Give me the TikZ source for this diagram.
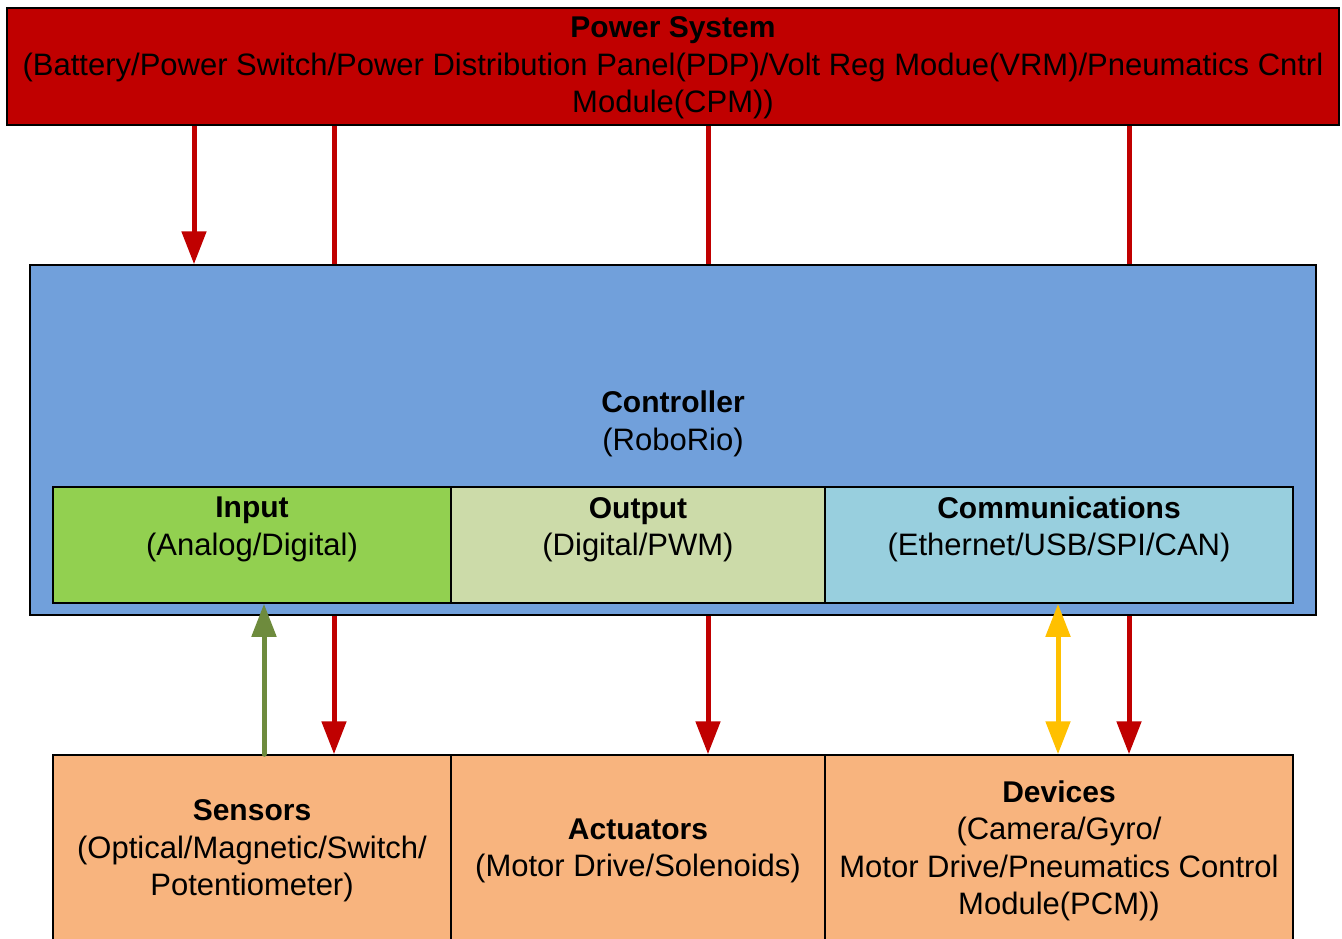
\documentclass[tikz,border=0pt]{standalone}
\usepackage{fontspec}
\setmainfont{Liberation Sans}
\usetikzlibrary{arrows.meta}
\definecolor{pwr}{HTML}{C00000}
\definecolor{ctrlc}{HTML}{71A0DB}
\definecolor{inc}{HTML}{92D050}
\definecolor{outc}{HTML}{CCDBA9}
\definecolor{comc}{HTML}{98CFDE}
\definecolor{orng}{HTML}{F8B47E}
\definecolor{grn}{HTML}{6E8B3D}
\definecolor{yel}{HTML}{FFC000}
\newcommand\hdtext[1]{{\fontsize{30pt}{37.5pt}\selectfont\bfseries #1}}
\tikzset{
  box/.style={draw=black, line width=1.5pt, inner sep=0pt},
  txt/.style={inner sep=0pt, align=center},
  conn/.style={line width=5pt},
  tip/.style={-{Triangle[width=24pt,length=33pt]}},
  bigfont/.style={font=\fontsize{31pt}{37.5pt}\selectfont}
}
\begin{document}
\begin{tikzpicture}[x=1pt,y=-1pt,bigfont]
\clip (0,0) rectangle (1342,938);
\fill[white] (0,0) rectangle (1342,938);
% power system
\node[box, fill=pwr, minimum width=1332pt, minimum height=117pt] (pwr) at (673,66.5) {};
\node[txt] (pwrtxt) at (673,68)
  {\hdtext{Power System}\\(Battery/Power Switch/Power Distribution Panel(PDP)/Volt Reg Modue(VRM)/Pneumatics Cntrl\\Module(CPM))};
% controller
\node[box, fill=ctrlc, minimum width=1286pt, minimum height=350pt] (ctrl) at (673,440) {};
\node[txt] (ctrltxt) at (673,424) {\hdtext{Controller}\\(RoboRio)};
% inner boxes
\node[box, fill=inc, minimum width=398pt, minimum height=116pt] (inp) at (252,545) {};
\node[box, fill=outc, minimum width=374pt, minimum height=116pt] (outp) at (638,545) {};
\node[box, fill=comc, minimum width=468pt, minimum height=116pt] (comm) at (1059,545) {};
\node[txt] (inptxt) at (252,529.5) {\hdtext{Input}\\(Analog/Digital)};
\node[txt] (outptxt) at (638,529.5) {\hdtext{Output}\\(Digital/PWM)};
\node[txt] (commtxt) at (1059,529.5) {\hdtext{Communications}\\(Ethernet/USB/SPI/CAN)};
% bottom boxes
\node[box, fill=orng, minimum width=398pt, minimum height=186pt] (sens) at (252,848) {};
\node[box, fill=orng, minimum width=374pt, minimum height=186pt] (act) at (638,848) {};
\node[box, fill=orng, minimum width=468pt, minimum height=186pt] (dev) at (1059,848) {};
\node[txt] (senstxt) at (252,851) {\hdtext{Sensors}\\(Optical/Magnetic/Switch/\\Potentiometer)};
\node[txt] (acttxt) at (638,851) {\hdtext{Actuators}\\(Motor Drive/Solenoids)};
\node[txt] (devtxt) at (1059,851) {\hdtext{Devices}\\(Camera/Gyro/\\Motor Drive/Pneumatics Control\\Module(PCM))};
% connector x positions
\coordinate (xa) at (194,0);
\coordinate (xb) at (334,0);
\coordinate (xc) at (708,0);
\coordinate (xd) at (1129,0);
\coordinate (xg) at (264,0);
\coordinate (xy) at (1058,0);
% power connectors
\draw[conn, pwr, tip] (pwr.south -| xa) -- (ctrl.north -| xa);
\draw[conn, pwr] (pwr.south -| xb) -- (ctrl.north -| xb);
\draw[conn, pwr] (pwr.south -| xc) -- (ctrl.north -| xc);
\draw[conn, pwr] (pwr.south -| xd) -- (ctrl.north -| xd);
% lower connectors
\draw[conn, grn, line cap=round, tip] (sens.north -| xg) -- (inp.south -| xg);
\draw[conn, pwr, tip] (ctrl.south -| xb) -- (sens.north -| xb);
\draw[conn, pwr, tip] (ctrl.south -| xc) -- (act.north -| xc);
\draw[conn, yel, {Triangle[width=24pt,length=33pt]}-{Triangle[width=24pt,length=33pt]}] (comm.south -| xy) -- (dev.north -| xy);
\draw[conn, pwr, tip] (ctrl.south -| xd) -- (dev.north -| xd);
\end{tikzpicture}
\end{document}
